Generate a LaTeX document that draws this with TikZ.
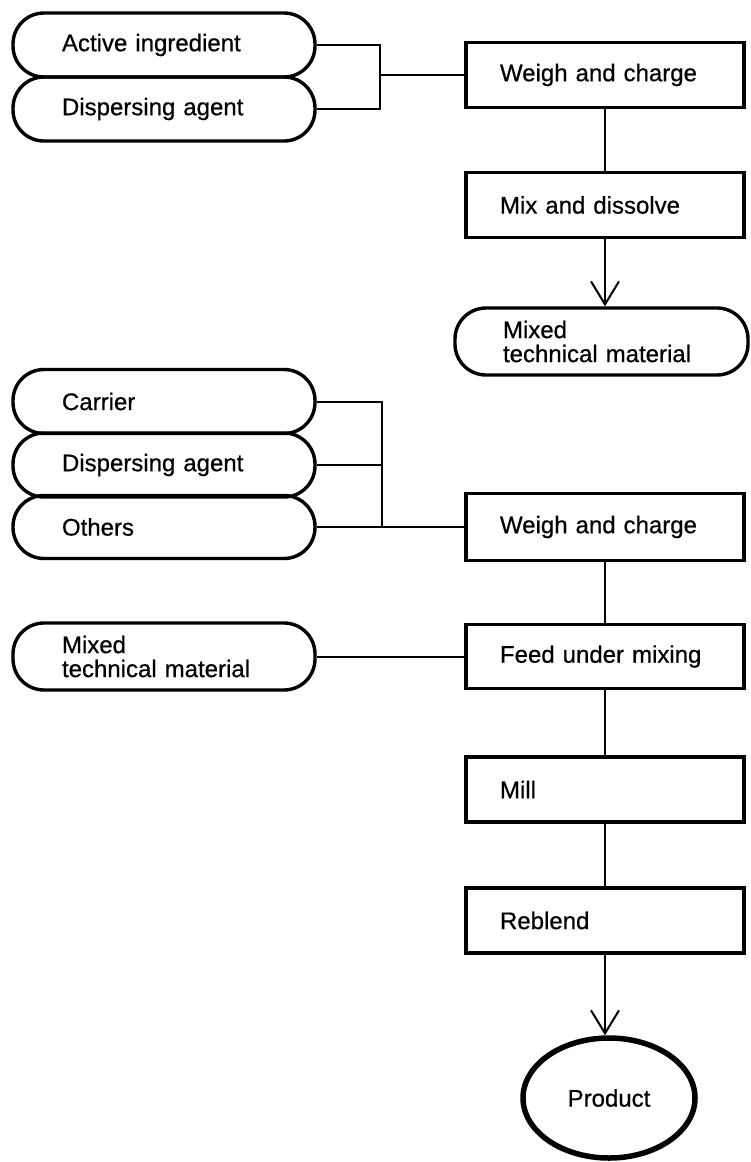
\documentclass[tikz,border=0pt]{standalone}
\usepackage{fontspec}
\setmainfont{Liberation Sans}[FakeBold=0.6]
\usetikzlibrary{arrows.meta,shapes.geometric}
\begin{document}
\begin{tikzpicture}[x=1pt,y=-1pt,
  every node/.style={font=\fontsize{24}{24}\selectfont},
  term/.style={draw, line width=3.4pt, rounded corners=31pt,
    minimum width=302pt, minimum height=64pt, inner xsep=0pt,
    text width=204pt, align=left},
  proc/.style={draw, line width=3.2pt, minimum width=278pt,
    minimum height=65pt, inner xsep=0pt, text width=210pt, align=left},
  link/.style={line width=2pt},
  flow/.style={line width=2pt, -{Straight Barb[length=23pt,width=28pt]}},
  endpoint/.style={draw, ellipse, line width=5.5pt,
    minimum width=172pt, minimum height=120pt}
]
\useasboundingbox (0,0) rectangle (750,1162);

% first stage: technical material
\node[term] (ai)  at (164,45)    {Active ingredient};
\node[term] (da1) at (164,109)   {Dispersing agent};
\node[proc] (w1)  at (605,75)    {Weigh and charge};
\node[proc] (mix) at (605,205)   {Mix and dissolve};
\node[term, minimum width=293pt, minimum height=67pt, text width=197pt]
  (mt1) at (601.5,341.5) {Mixed\\technical material};

% second stage: formulation
\node[term] (car) at (164,401.5) {Carrier};
\node[term] (da2) at (164,465)   {Dispersing agent};
\node[term, minimum height=63pt] (oth) at (164,527) {Others};
\node[proc, minimum height=67pt] (w2) at (605,527) {Weigh and charge};
\node[term, minimum height=67pt] (mt2) at (164,656.5) {Mixed\\technical material};
\node[proc, minimum height=64pt] (feed) at (605,656.5) {Feed under mixing};
\node[proc] (mill) at (605,789.5) {Mill};
\node[proc] (reb)  at (605,920.5) {Reblend};
\node[endpoint] (prod) at (609,1098) {Product};

% connectors
\coordinate (j1) at (380,75);
\draw[link] (ai.east) -| (j1) -- (w1.west);
\draw[link] (da1.east) -| (j1);
\draw[link] (w1) -- (mix);
\draw[flow] (mix.south) -- (mix.south |- mt1.north);

\coordinate (j2) at (382,527);
\draw[link] (car.east) -| (j2) -- (w2.west);
\draw[link] (da2.east) -- (da2.east -| j2);
\draw[link] (oth.east) -- (j2);
\draw[link] (w2) -- (feed);
\draw[link] (mt2) -- (feed);
\draw[link] (feed) -- (mill);
\draw[link] (mill) -- (reb);
\draw[flow] (reb.south) -- (reb.south |- prod.north);
\end{tikzpicture}
\end{document}
